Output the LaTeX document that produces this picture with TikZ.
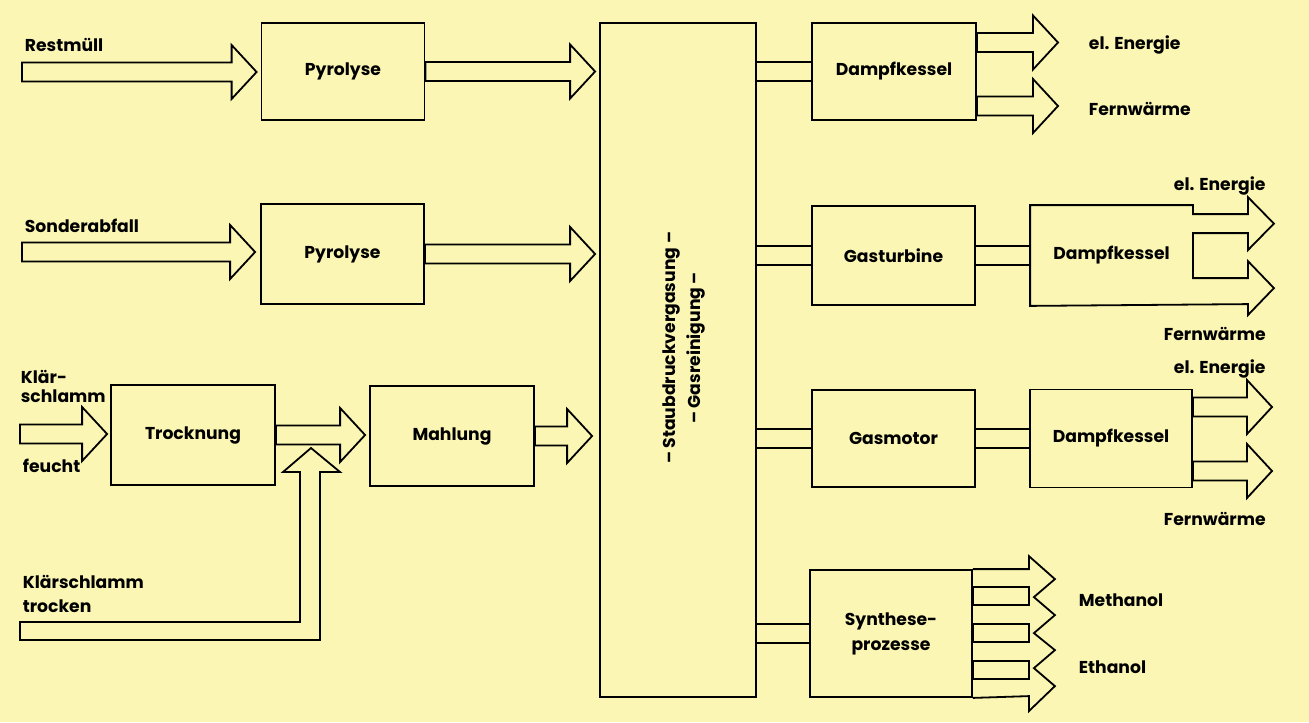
\documentclass[tikz,border=0pt]{standalone}
\usepackage{fontspec}
\setmainfont{Poppins}
\usetikzlibrary{calc}
\definecolor{paper}{RGB}{251,246,180}

\newcommand{\fatarrow}[3]{%
  \draw[hollow] ($(#1)+(0,-\sh)$) -- ($(#2)+(-#3-\hl,-\sh)$) -- ($(#2)+(-#3-\hl,-\hh)$)
    -- ($(#2)+(-#3,0)$) -- ($(#2)+(-#3-\hl,\hh)$) -- ($(#2)+(-#3-\hl,\sh)$)
    -- ($(#1)+(0,\sh)$) -- cycle;}
\newcommand{\pipe}[2]{%
  \draw ($(#1.east |- #2.west)+(0,-\ph)$) -- ($(#2.west)+(0,-\ph)$)
        ($(#1.east |- #2.west)+(0,\ph)$) -- ($(#2.west)+(0,\ph)$);}

\begin{document}
\begin{tikzpicture}[x=0.5pt,y=-0.5pt,line width=0.9pt,font=\fontsize{8.6}{12.5}\selectfont\bfseries,
  box/.style 2 args={draw,fill=paper,rectangle,inner sep=0pt,align=center,minimum width=#1*0.5pt,minimum height=#2*0.5pt},
  hollow/.style={draw,fill=paper,line join=miter},
  lbl/.style={anchor=base west,inner sep=0pt}]
\def\sh{9.5}
\def\hh{27}
\def\hl{25}
\def\ph{9.5}
\fill[paper] (0,0) rectangle (1309,722);
\useasboundingbox (0,0) rectangle (1309,722);

\node[box={163}{97}] (pyrA) at (343,71.5) {Pyrolyse};
\node[box={163}{100}] (pyrB) at (342.5,254) {Pyrolyse};
\node[box={164}{100}] (trock) at (193,435) {Trocknung};
\node[box={164}{100}] (mahl) at (452,436) {Mahlung};
\node[box={156}{674}] (vg) at (678,360) {};
\node[rotate=90,align=center,inner sep=0pt] (vgtxt) at (684,348) {– Staubdruckvergasung –\\– Gasreinigung –};

\node[box={164}{97}] (dkA) at (894,71.5) {Dampfkessel};
\node[box={163}{99}] (gt) at (893.5,255.5) {Gasturbine};
\node[box={161}{99},draw=none] (dkB) at (1111.5,255.5) {Dampfkessel};
\node[box={163}{97}] (gm) at (893.5,438.5) {Gasmotor};
\node[box={162}{98}] (dkC) at (1111,438.5) {Dampfkessel};
\node[box={162}{127}] (syn) at (891,633.5) {Synthese-\\prozesse};

\node[lbl] (restm) at (24,52) {Restmüll};
\node[lbl] (sonder) at (24,232) {Sonderabfall};
\node[lbl] (klaerA) at (20,383) {Klär-};
\node[lbl] (klaerB) at (20,402) {schlamm};
\node[lbl] (feucht) at (22,472) {feucht};
\node[lbl] (klaerC) at (22,588) {Klärschlamm};
\node[lbl] (trocken) at (22,612) {trocken};
\node[lbl] (elA) at (1088,50) {el. Energie};
\node[lbl] (fwA) at (1088,115) {Fernwärme};
\node[lbl] (elB) at (1173,190) {el. Energie};
\node[lbl] (fwB) at (1163,340) {Fernwärme};
\node[lbl] (elC) at (1173,373) {el. Energie};
\node[lbl] (fwC) at (1163,525) {Fernwärme};
\node[lbl] (meth) at (1078,606) {Methanol};
\node[lbl] (eth) at (1078,673) {Ethanol};

\coordinate (inA) at (22,72);
\coordinate (inB) at (22,252);
\coordinate (inC) at (20,434);
\fatarrow{inA}{pyrA.west |- inA}{4}
\fatarrow{pyrA.east}{vg.west |- pyrA.east}{4}
\fatarrow{inB}{pyrB.west |- inB}{5}
\fatarrow{pyrB.east}{vg.west |- pyrB.east}{4}
\fatarrow{inC}{trock.west |- inC}{3}
\fatarrow{trock.east}{mahl.west |- trock.east}{4}
\fatarrow{mahl.east}{vg.west |- mahl.east}{7}

\coordinate (kt) at (20,622);
\draw[hollow] (kt) -- (300,622) -- (300,472) -- (283,472) -- (311,448) -- (340,472)
  -- (320,472) -- (320,640) -- (20,640) -- cycle;

\pipe{vg}{dkA}
\pipe{vg}{gt}
\pipe{gt}{dkB}
\pipe{vg}{gm}
\pipe{gm}{dkC}
\pipe{vg}{syn}

\coordinate (tipA1) at (1058,42.5);
\coordinate (tipA2) at (1058,106);
\coordinate (tipC1) at (1272,407);
\coordinate (tipC2) at (1272,471);
\fatarrow{dkA.east |- tipA1}{tipA1}{0}
\fatarrow{dkA.east |- tipA2}{tipA2}{0}
\fatarrow{dkC.east |- tipC1}{tipC1}{0}
\fatarrow{dkC.east |- tipC2}{tipC2}{0}

\draw[line join=miter] (dkB.north west) -- (dkB.north east) -- ++(0,9) -- ++(55,0) -- ++(0,-17)
  -- ++(26,26.5) -- ++(-26,26.5) -- ++(0,-17) -- ++(-55,0) -- ++(0,45) -- ++(55,0) -- ++(0,-17)
  -- ++(26,27) -- ++(-26,27) -- ++(0,-11) -- (dkB.south west) -- cycle;

\draw[line join=miter] (syn.north east) -- ++(56,0) -- ++(0,-13) -- ++(26,23) -- ++(-21,18)
  -- ++(21,18) -- ++(-21,18) -- ++(21,17) -- ++(-21,18) -- ++(21,18) -- ++(-26,25)
  -- ++(0,-15) -- (syn.south east);
\foreach \t in {18,55,92}
  \draw ($(syn.north east)+(0,\t)$) rectangle ++(56,17.5);
\end{tikzpicture}
\end{document}
